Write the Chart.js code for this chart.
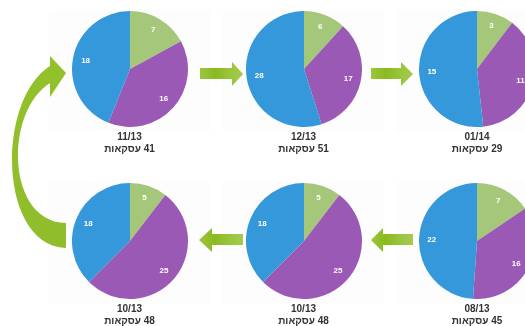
<!DOCTYPE html>
<html>
<head>
<meta charset="utf-8">
<script src="https://cdn.jsdelivr.net/npm/chart.js@4"></script>
<style>
  html, body { margin: 0; padding: 0; background: #fff; }
  body { width: 525px; height: 326px; position: relative; overflow: hidden; font-family: "Liberation Sans", Arial, sans-serif; }
  #bg { position: absolute; left: 0; top: 0; }
  .pie { position: absolute; width: 116px; height: 116px; }
  .cap { position: absolute; width: 120px; text-align: center; font-weight: bold; font-size: 10px; color: #333; line-height: 12px; }
</style>
</head>
<body>
<canvas id="bg" width="525" height="326"></canvas>

<script>
// ---- data (per pie, in the order they are laid out: top row, then bottom row) ----
const months = ['11/13', '12/13', '01/14', '10/13', '10/13', '08/13'];
const greenValues = [7, 6, 3, 5, 5, 7];
const purpleValues = [16, 17, 11, 25, 25, 16];
const blueValues = [18, 28, 15, 18, 18, 22];
const dealsWord = 'עסקאות';

const sliceColors = ['#a5c779', '#9b59b6', '#3498db'];

// pie centres on the page
const centres = [
    [129.5, 69], [303.5, 69], [477, 69],
    [129.5, 240.5], [303.5, 240.5], [477, 240.5]
];

// ---- background: faint panels + green arrows ----
function drawBackground() {
    const ctx = document.getElementById('bg').getContext('2d');

    ctx.fillStyle = '#fdfdfd';
    centres.forEach(c => {
        ctx.fillRect(c[0] - 81, c[1] - 59, 162, 122);
    });

    function arrowFill(x0, x1) {
        const g = ctx.createLinearGradient(x0, 0, x1, 0);
        g.addColorStop(0, '#9cc63f');
        g.addColorStop(0.35, '#8aba1f');
        g.addColorStop(0.65, '#98c43a');
        g.addColorStop(1, '#a3ca4f');
        return g;
    }

    // right pointing arrows (top row)
    [[200, 232, 243], [371, 401, 413]].forEach(a => {
        ctx.fillStyle = arrowFill(a[0], a[2]);
        ctx.beginPath();
        ctx.moveTo(a[0], 68);
        ctx.lineTo(a[1], 68);
        ctx.lineTo(a[1], 62);
        ctx.lineTo(a[2], 74);
        ctx.lineTo(a[1], 86);
        ctx.lineTo(a[1], 79);
        ctx.lineTo(a[0], 79);
        ctx.closePath();
        ctx.fill();
    });

    // left pointing arrows (bottom row)
    [[243, 212, 199], [413, 383, 371]].forEach(a => {
        ctx.fillStyle = arrowFill(a[2], a[0]);
        ctx.beginPath();
        ctx.moveTo(a[0], 234);
        ctx.lineTo(a[1], 234);
        ctx.lineTo(a[1], 228);
        ctx.lineTo(a[2], 240);
        ctx.lineTo(a[1], 252);
        ctx.lineTo(a[1], 245);
        ctx.lineTo(a[0], 245);
        ctx.closePath();
        ctx.fill();
    });

    // big curved arrow on the left, from the bottom row back up to the top
    const g = ctx.createLinearGradient(0, 250, 0, 56);
    g.addColorStop(0, '#8fbd2c');
    g.addColorStop(1, '#92c12a');
    ctx.fillStyle = g;
    ctx.beginPath();
    ctx.moveTo(66, 248);
    ctx.bezierCurveTo(-2, 246, -4, 100, 50, 66);
    ctx.lineTo(50, 56);
    ctx.lineTo(66, 73);
    ctx.lineTo(50, 97);
    ctx.lineTo(50, 83);
    ctx.bezierCurveTo(4, 112, 6, 222, 66, 223);
    ctx.closePath();
    ctx.fill();
}

// ---- white value labels inside the slices ----
const sliceLabels = {
    id: 'sliceLabels',
    afterDatasetsDraw(chart) {
        const ctx = chart.ctx;
        const meta = chart.getDatasetMeta(0);
        const values = chart.data.datasets[0].data;
        ctx.save();
        ctx.fillStyle = '#fff';
        ctx.font = 'bold 8px "Liberation Sans", Arial, sans-serif';
        ctx.textAlign = 'center';
        ctx.textBaseline = 'middle';
        meta.data.forEach((arc, i) => {
            const mid = (arc.startAngle + arc.endAngle) / 2;
            const r = arc.outerRadius * 0.78;
            ctx.fillText(values[i], arc.x + Math.cos(mid) * r, arc.y + Math.sin(mid) * r);
        });
        ctx.restore();
    }
};

function buildPies() {
    months.forEach((month, i) => {
        const [cx, cy] = centres[i];

        const canvas = document.createElement('canvas');
        canvas.className = 'pie';
        canvas.width = 116;
        canvas.height = 116;
        canvas.style.left = (cx - 58) + 'px';
        canvas.style.top = (cy - 58) + 'px';
        document.body.appendChild(canvas);

        new Chart(canvas, {
            type: 'pie',
            data: {
                labels: ['green', 'purple', 'blue'],
                datasets: [{
                    data: [greenValues[i], purpleValues[i], blueValues[i]],
                    backgroundColor: sliceColors,
                    borderWidth: 0
                }]
            },
            options: {
                responsive: false,
                animation: false,
                layout: { padding: 0 },
                plugins: {
                    legend: { display: false },
                    tooltip: { enabled: false }
                }
            },
            plugins: [sliceLabels]
        });

        const total = greenValues[i] + purpleValues[i] + blueValues[i];
        const cap = document.createElement('div');
        cap.className = 'cap';
        cap.style.left = (cx - 60) + 'px';
        cap.style.top = (cy + 62) + 'px';
        cap.innerHTML = `<div>${month}</div><div dir="rtl">${total} ${dealsWord}</div>`;
        document.body.appendChild(cap);
    });
}

drawBackground();
buildPies();
</script>
</body>
</html>
